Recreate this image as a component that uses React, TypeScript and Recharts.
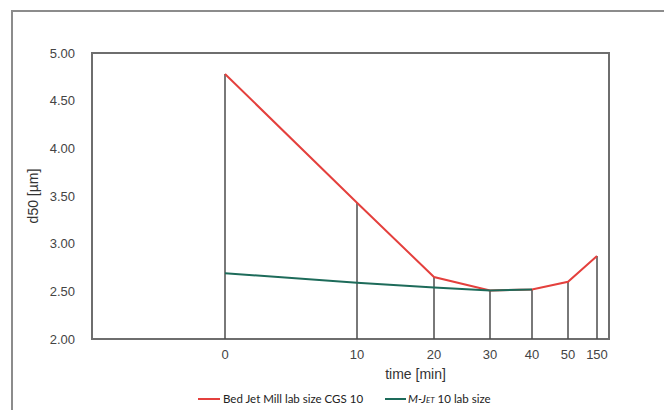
import {
  ComposedChart,
  Line,
  XAxis,
  YAxis,
  ReferenceLine,
  ReferenceArea,
} from "recharts";

// time points (min) and where Excel placed them on the non-linear axis (0..517)
const times = ["0", "10", "20", "30", "40", "50", "150"];
const xPos = [133, 265, 342, 398, 440, 476, 505];

const bedJetMill = [4.78, 3.43, 2.65, 2.51, 2.52, 2.6, 2.87];
const mJet = [2.69, 2.59, 2.54, 2.51, 2.52, null, null];

const yTicks = [2, 2.5, 3, 3.5, 4, 4.5, 5];

const RED = "#e4403d";
const GREEN = "#1d6b5a";
const FONT = "'Liberation Sans', Arial, sans-serif";

const data = times.map((t, i) => ({
  t,
  x: xPos[i],
  bed: bedJetMill[i],
  mjet: mJet[i],
}));

function YLabel({ viewBox }: any) {
  const cx = 33;
  const cy = viewBox.y + viewBox.height / 2;
  return (
    <text
      x={cx}
      y={cy}
      transform={`rotate(-90, ${cx}, ${cy})`}
      textAnchor="middle"
      dominantBaseline="central"
      fontFamily={FONT}
      fontSize={14}
      fill="#333"
    >
      d50 [µm]
    </text>
  );
}

function XLabel({ viewBox }: any) {
  return (
    <text
      x={viewBox.x + viewBox.width / 2 + 65}
      y={374}
      textAnchor="middle"
      dominantBaseline="central"
      fontFamily={FONT}
      fontSize={14}
      fill="#333"
    >
      time [min]
    </text>
  );
}

export default function App() {
  return (
    <div style={{ position: "absolute", left: 0, top: 0, width: 664, height: 410, background: "#fff", overflow: "hidden" }}>
      {/* outer chart frame */}
      <div
        style={{
          position: "absolute",
          left: 11,
          top: 10,
          width: 720,
          height: 460,
          borderTop: "2px solid #8c8c8c",
          borderLeft: "2px solid #8c8c8c",
        }}
      />
      <div style={{ position: "absolute", left: 0, top: 0 }}>
        <ComposedChart
          width={664}
          height={410}
          data={data}
          margin={{ top: 53, right: 55, left: 0, bottom: 31 }}
        >
          <XAxis
            dataKey="x"
            type="number"
            domain={[0, 517]}
            ticks={xPos}
            tickFormatter={(v: number) => times[xPos.indexOf(v)]}
            tickLine={false}
            axisLine={false}
            tickMargin={5}
            height={40}
            tick={{ fontFamily: FONT, fontSize: 13, fill: "#444" }}
            label={<XLabel />}
            allowDataOverflow
          />
          <YAxis
            type="number"
            domain={[2, 5]}
            ticks={yTicks}
            tickFormatter={(v: number) => v.toFixed(2)}
            tickLine={false}
            axisLine={false}
            tickMargin={11}
            width={92}
            tick={{ fontFamily: FONT, fontSize: 13, fill: "#444" }}
            label={<YLabel />}
            allowDataOverflow
          />
          <ReferenceArea
            x1={0}
            x2={517}
            y1={2}
            y2={5}
            fill="none"
            stroke="#6e6e6e"
            strokeWidth={2}
            fillOpacity={0}
          />
          {data.map((d) => (
            <ReferenceLine
              key={d.t}
              segment={[
                { x: d.x, y: 2 },
                { x: d.x, y: Math.max(d.bed, d.mjet ?? 0) },
              ]}
              stroke="#4d4d4d"
              strokeWidth={1.5}
            />
          ))}
          <Line
            dataKey="bed"
            type="linear"
            stroke={RED}
            strokeWidth={2}
            dot={false}
            activeDot={false}
            isAnimationActive={false}
          />
          <Line
            dataKey="mjet"
            type="linear"
            stroke={GREEN}
            strokeWidth={2}
            dot={false}
            activeDot={false}
            connectNulls={false}
            isAnimationActive={false}
          />
        </ComposedChart>
      </div>
      {/* legend */}
      <div
        style={{
          position: "absolute",
          left: 198,
          top: 392,
          display: "flex",
          alignItems: "center",
          fontFamily: "Lato, 'Open Sans', sans-serif",
          fontSize: 11.5,
          color: "#222",
          whiteSpace: "nowrap",
        }}
      >
        <span style={{ display: "inline-block", width: 22, height: 2, background: RED, marginRight: 3 }} />
        <span>Bed Jet Mill lab size CGS 10</span>
        <span style={{ display: "inline-block", width: 21, height: 2, background: GREEN, marginLeft: 22, marginRight: 2 }} />
        <span>
          <span style={{ fontStyle: "italic", fontVariant: "small-caps" }}>M-Jet</span> 10 lab size
        </span>
      </div>
    </div>
  );
}
